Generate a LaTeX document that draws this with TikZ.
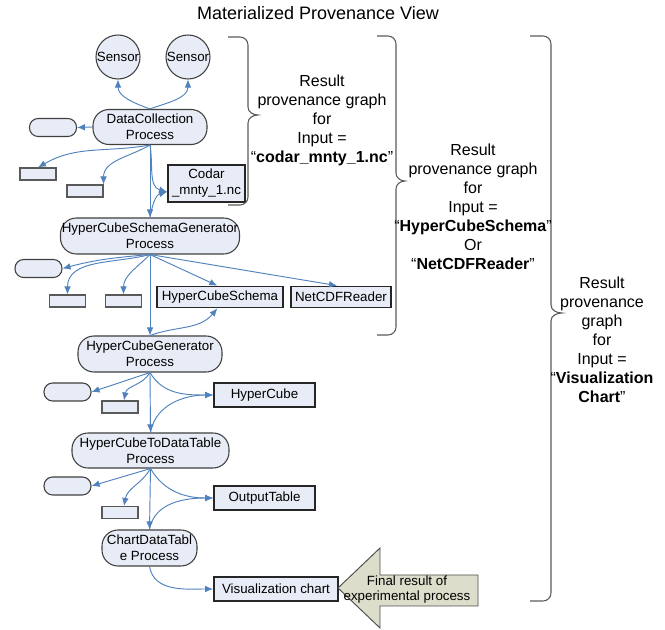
\documentclass[tikz,border=0pt]{standalone}
\usepackage{fontspec}
\setmainfont{Liberation Sans}
\usepackage{tikz}
\usetikzlibrary{arrows.meta,shapes}

\definecolor{procfill}{RGB}{232,236,246}
\definecolor{linkblue}{RGB}{79,129,189}
\definecolor{bracegray}{RGB}{90,90,90}
\definecolor{notefill}{RGB}{221,221,203}

\begin{document}
\begin{tikzpicture}[x=0.75pt, y=-0.75pt, >={Latex[length=6pt,width=5pt]}]
      \tikzstyle{every node}=[font=\fontsize{10}{12}\selectfont]
      \tikzstyle{proc}=[draw=black!75, line width=0.8pt, fill=procfill, rounded corners=12pt, align=center, inner sep=1pt]
      \tikzstyle{sensor}=[draw=black!75, line width=0.8pt, fill=procfill, circle, minimum size=33pt, inner sep=0pt]
      \tikzstyle{agent}=[draw=black!75, line width=0.8pt, fill=procfill, rounded corners=6.5pt, minimum width=35.25pt, minimum height=13.5pt, inner sep=0pt]
      \tikzstyle{param}=[draw=black!65, line width=0.8pt, fill=procfill, minimum width=27pt, minimum height=9pt, inner sep=0pt]
      \tikzstyle{artifact}=[draw=black!85, line width=1.3pt, fill=procfill, align=center, inner sep=1pt]
      \tikzstyle{link}=[->, draw=linkblue, line width=0.7pt]
      \tikzstyle{curly}=[draw=bracegray, line width=0.8pt]
      \tikzstyle{note}=[align=center, font=\fontsize{12}{14.2}\selectfont]
      %%
  \useasboundingbox (0,0) rectangle (665,630);
  \node (title) at (318,13) [font=\fontsize{13.5}{16}\selectfont] {Materialized Provenance View};
  %% data collection
  \node (sensor1) at (118,57) [sensor] {Sensor};
  \node (sensor2) at (188,57) [sensor] {Sensor};
  \node (dcp) at (150,127) [proc, minimum width=85.5pt, minimum height=26.25pt] {DataCollection\\Process};
  \node (dcp_a) at (53,127.5) [agent] {};
  \node (dcp_p1) at (38,174) [param] {};
  \node (dcp_p2) at (85,191) [param] {};
  \node (codar) at (206.5,183.5) [artifact, minimum width=57.75pt, minimum height=27.75pt] {Codar\\\_mnty\_1.nc};
  %% schema generator
  \node (hcsg) at (150,236) [proc, minimum width=134.25pt, minimum height=27pt] {HyperCubeSchemaGenerator\\Process};
  \node (hcsg_a) at (38.5,268.5) [agent] {};
  \node (hcsg_p1) at (67.5,301) [param] {};
  \node (hcsg_p2) at (123.5,301) [param] {};
  \node (schema) at (220,297) [artifact, minimum width=94.5pt, minimum height=15.75pt] {HyperCubeSchema};
  \node (reader) at (341,297) [artifact, minimum width=75pt, minimum height=15.75pt] {NetCDFReader};
  %% cube generator
  \node (hcg) at (150,354) [proc, minimum width=108pt, minimum height=27pt] {HyperCubeGenerator\\Process};
  \node (hcg_a) at (67.5,392) [agent] {};
  \node (hcg_p) at (120,407) [param] {};
  \node (cube) at (264.5,395) [artifact, minimum width=75.75pt, minimum height=18pt] {HyperCube};
  %% cube to table
  \node (hctdt) at (150.5,450.5) [proc, minimum width=117.75pt, minimum height=26.25pt] {HyperCubeToDataTable\\Process};
  \node (hctdt_a) at (67.5,486) [agent] {};
  \node (hctdt_p) at (120,512.5) [param] {};
  \node (table) at (264.5,498) [artifact, minimum width=75.75pt, minimum height=18pt] {OutputTable};
  %% chart
  \node (cdt) at (149.5,548) [proc, minimum width=71.25pt, minimum height=27pt] {ChartDataTabl\\e Process};
  \node (chart) at (276,589) [artifact, minimum width=93pt, minimum height=18pt] {Visualization chart};
  %% links
  \draw [link] (dcp.north) to[out=160,in=-90] (sensor1.south);
  \draw [link] (dcp.north) to[out=20,in=-90] (sensor2.south);
  \draw [link] (dcp.west) -- (dcp_a.east);
  \draw [link] (dcp.south) to[out=190,in=30] (dcp_p1.north);
  \draw [link] (dcp.south) to[out=210,in=90] (dcp_p2.north east);
  \draw [link] (dcp.south) to[out=-80,in=165] (codar.192);
  \draw [link] (dcp.south) -- (hcsg.north);
  \draw [link] (hcsg.north) to[out=80,in=195] (codar.192);
  \draw [link] (hcsg.south) to[out=185,in=15] (hcsg_a.east);
  \draw [link] (hcsg.south) to[out=195,in=90] (hcsg_p1.north);
  \draw [link] (hcsg.south) to[out=225,in=90] (hcsg_p2.north);
  \draw [link] (hcsg.south) -- ([xshift=-2pt]schema.north);
  \draw [link] (hcsg.south) -- ([xshift=-3pt]reader.north);
  \draw [link] (hcsg.south) -- (hcg.north);
  \draw [link] (hcg.north) to[out=20,in=230] ([xshift=-2pt]schema.south);
  \draw [link] (hcg.south) -- (hcg_a.east);
  \draw [link] (hcg.south) to[out=240,in=80] ([xshift=3pt]hcg_p.north);
  \draw [link] (hcg.south) to[out=-60,in=180] (cube.west);
  \draw [link] (hcg.south) -- (hctdt.north);
  \draw [link] (hctdt.north) to[out=80,in=180] (cube.west);
  \draw [link] (hctdt.south) -- (hctdt_a.east);
  \draw [link] (hctdt.south) to[out=240,in=80] ([xshift=3pt]hctdt_p.north);
  \draw [link] (hctdt.south) to[out=-60,in=180] (table.west);
  \draw [link] (hctdt.south) -- (cdt.north);
  \draw [link] (cdt.north) to[out=80,in=180] (table.west);
  \draw [link] (cdt.south) to[out=-80,in=180] (chart.west);
  %% final result arrow
  \draw [draw=black!70, fill=notefill, line width=0.7pt] (338,588) -- (380,548) -- (380,575) -- (478,575) -- (478,606) -- (380,606) -- (380,628) -- cycle;
  \node (final) at (407,590) [align=center, font=\fontsize{10}{11.3}\selectfont] {Final result of\\experimental process};
  %% braces
  \draw [curly] (228,37) -- (240,37) to[out=0,in=90] (248,45) -- (248,107) to[out=-90,in=180] (258,115) to[out=180,in=90] (248,123) -- (248,197) to[out=-90,in=0] (240,205) -- (228,205);
  \draw [curly] (377,36) -- (388,36) to[out=0,in=90] (396,44) -- (396,173) to[out=-90,in=180] (405,181) to[out=180,in=90] (396,189) -- (396,327) to[out=-90,in=0] (388,335) -- (377,335);
  \draw [curly] (530,36) -- (543,36) to[out=0,in=90] (551,44) -- (551,305) to[out=-90,in=180] (562,313) to[out=180,in=90] (551,321) -- (551,593) to[out=-90,in=0] (543,601) -- (530,601);
  \node (note1) at (322,120.5) [note] {Result\\provenance graph\\for\\Input =\\“\textbf{codar\_mnty\_1.nc}”};
  \node (note2) at (473,207) [note] {Result\\provenance graph\\for\\Input =\\“\textbf{HyperCubeSchema}”\\Or\\“\textbf{NetCDFReader}”};
  \node (note3) at (602,340) [note] {Result\\provenance\\graph\\for\\Input =\\“\textbf{Visualization}\\\textbf{Chart}”};
%
\end{tikzpicture}
\end{document}
